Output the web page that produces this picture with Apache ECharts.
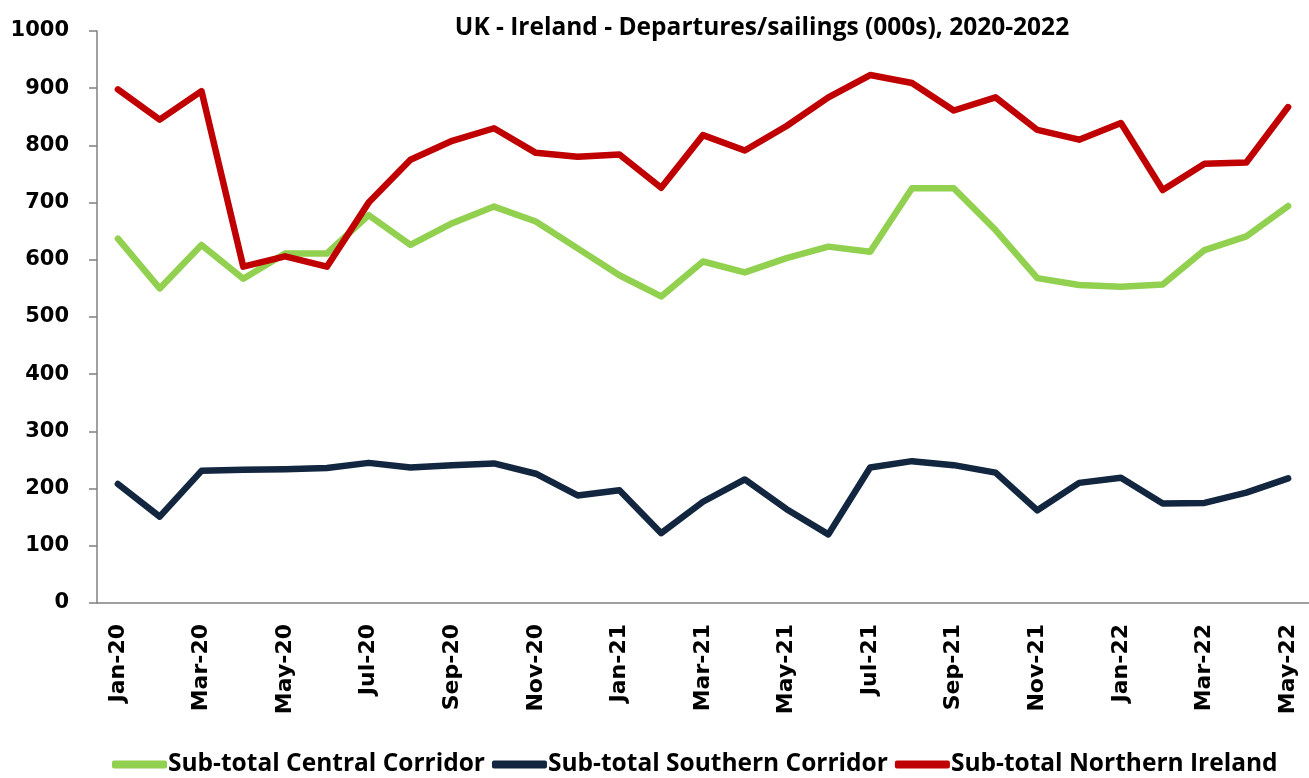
<!DOCTYPE html>
<html>
<head>
<meta charset="utf-8">
<script src="https://cdn.jsdelivr.net/npm/echarts@6/dist/echarts.min.js"></script>
<style>html,body{margin:0;padding:0;background:#fff}#c{width:1309px;height:778px}</style>
</head>
<body>
<div id="c"></div>
<script>
var categories = ["Jan-20","Feb-20","Mar-20","Apr-20","May-20","Jun-20","Jul-20","Aug-20","Sep-20","Oct-20","Nov-20","Dec-20",
  "Jan-21","Feb-21","Mar-21","Apr-21","May-21","Jun-21","Jul-21","Aug-21","Sep-21","Oct-21","Nov-21","Dec-21",
  "Jan-22","Feb-22","Mar-22","Apr-22","May-22"];
var central = [637,550,626,567,611,611,678,626,664,693,667,620,573,536,597,578,603,623,614,725,725,652,568,556,553,557,617,641,694];
var southern = [208,151,231,233,234,236,245,237,241,244,226,188,197,122,177,216,164,120,237,248,241,228,162,210,219,174,175,193,218];
var northern = [898,845,895,588,606,588,700,775,808,830,787,780,784,726,818,791,834,884,923,909,861,884,827,810,839,722,768,770,867];
var yTicks = [0,100,200,300,400,500,600,700,800,900,1000];

var chart = echarts.init(document.getElementById('c'), null, {renderer:'canvas'});
var lineCommon = {type:'line', symbol:'none', smooth:false, animation:false};
chart.setOption({
  animation:false,
  title:{text:'UK - Ireland - Departures/sailings (000s), 2020-2022', left:757, textAlign:'center', top:11,
    textStyle:{fontFamily:'Open Sans', fontWeight:'bold', fontSize:24.5, color:'#000'}},
  grid:{left:97, top:31, width:1215, height:572},
  legend:{top:747, left:107, itemWidth:55, itemHeight:8, itemGap:7, icon:'roundRect',
    textStyle:{fontFamily:'Open Sans', fontWeight:'bold', fontSize:24.5, color:'#000', padding:[0,0,0,-4]},
    data:['Sub-total Central Corridor','Sub-total Southern Corridor','Sub-total Northern Ireland']},
  xAxis:{type:'category', data:categories, boundaryGap:true,
    axisLine:{lineStyle:{color:'#808080', width:1.5}},
    axisTick:{interval:1, length:8, lineStyle:{color:'#808080', width:1.5}},
    axisLabel:{interval:1, rotate:90, margin:21, fontFamily:'DejaVu Sans', fontWeight:'bold', fontSize:22, color:'#000'},
    splitLine:{show:false}},
  yAxis:{type:'value', min:0, max:1000, interval:100,
    axisLine:{show:true, lineStyle:{color:'#808080', width:1.5}},
    axisTick:{show:true, length:8, lineStyle:{color:'#808080', width:1.5}},
    axisLabel:{margin:28, fontFamily:'DejaVu Sans', fontWeight:'bold', fontSize:21, color:'#000',
      formatter:function(v){return yTicks.indexOf(v)>=0?String(v):'';}},
    splitLine:{show:false}},
  series:[
    Object.assign({name:'Sub-total Central Corridor', data:central, itemStyle:{color:'#92D050'},
      lineStyle:{color:'#92D050', width:6.5, cap:'round', join:'round'}, z:2}, lineCommon),
    Object.assign({name:'Sub-total Southern Corridor', data:southern, itemStyle:{color:'#12263F'},
      lineStyle:{color:'#12263F', width:6.5, cap:'round', join:'round'}, z:3}, lineCommon),
    Object.assign({name:'Sub-total Northern Ireland', data:northern, itemStyle:{color:'#C00000'},
      lineStyle:{color:'#C00000', width:6.5, cap:'round', join:'round'}, z:4}, lineCommon)
  ]
});
</script>
</body>
</html>
